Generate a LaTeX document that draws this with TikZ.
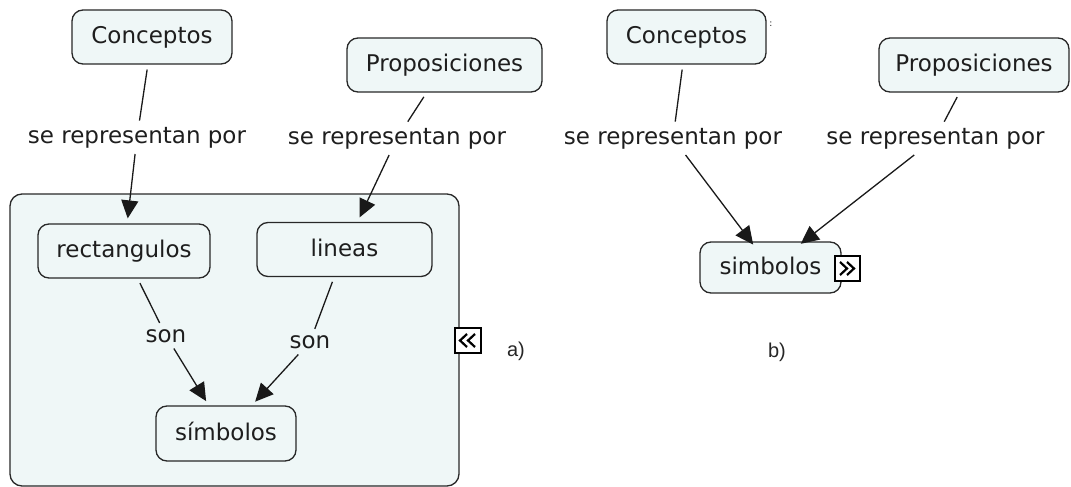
\documentclass[tikz,border=0pt]{standalone}
\usepackage{fontspec}
\setmainfont{DejaVu Sans}
\newfontfamily\labfont{Liberation Sans}
\usetikzlibrary{arrows.meta}
\definecolor{boxfill}{RGB}{239,247,247}
\definecolor{boxdraw}{RGB}{40,40,40}
\definecolor{txt}{RGB}{30,30,30}
\definecolor{lnk}{RGB}{25,25,25}
\begin{document}
\begin{tikzpicture}[x=1pt,y=-1pt,
  concept/.style={draw=boxdraw, fill=boxfill, line width=1.3pt, rounded corners=11pt,
    text=txt, font=\fontsize{23}{28}\selectfont, inner sep=0pt, minimum height=54pt,
    text height=18.4pt, text depth=4.6pt},
  group/.style={draw=boxdraw, fill=boxfill, line width=1.3pt, rounded corners=12pt, inner sep=0pt},
  linklab/.style={text=txt, font=\fontsize{23}{28}\selectfont, inner sep=6pt, anchor=base},
  conn/.style={draw=lnk, line width=1.3pt, shorten <=5pt},
  arr/.style={conn, -{Triangle[length=18pt,width=17pt]}, shorten <=0pt, shorten >=5pt},
  chevbox/.style={draw=black, fill=white, line width=1.3pt},
  chev/.style={draw=black, line width=2.2pt},
  sublab/.style={font=\labfont\fontsize{20}{24}\selectfont, text=black!85, anchor=base, inner sep=0pt}]
\useasboundingbox (0,0) rectangle (1071,487);

% ---------- panel a ----------
\node[group, minimum width=449pt, minimum height=292pt] (grp) at (234.5,340) {};

\node[concept, minimum width=160pt] (c1) at (152,37) {Conceptos};
\node[concept, minimum width=195pt] (p1) at (444.5,65) {Proposiciones};
\node[linklab] (l1) at (137,143) {se representan por};
\node[linklab] (l2) at (397,144) {se representan por};
\node[concept, minimum width=172pt, minimum height=54pt] (r) at (124,251) {rectangulos};
\node[concept, minimum width=175pt] (li) at (344.5,249.5) {lineas};
\node[linklab] (s1) at (166,342) {son};
\node[linklab] (s2) at (310,348) {son};
\node[concept, minimum width=140pt, minimum height=55pt] (sy) at (226,433.5) {símbolos};

\draw[conn] (c1) -- (l1);
\draw[arr] (l1) -- (r);
\draw[conn] (p1) -- (l2);
\draw[arr] (l2) -- (li);
\draw[conn] (r) -- (s1);
\draw[arr] (s1) -- (sy);
\draw[conn] (li) -- (s2);
\draw[arr] (s2) -- (sy);

\draw[chevbox] (455,328) rectangle (481,353);
\draw[chev] (467,334) -- (460,340.5) -- (467,347) (475,334) -- (468,340.5) -- (475,347);
\node[sublab] (ta) at (516,356) {a)};

% ---------- panel b ----------
\node[concept, minimum width=159pt] (c2) at (686.5,37) {Conceptos};
\node[font=\fontsize{9}{10}\selectfont, text=txt, inner sep=0pt] (colon) at (771,24) {:};
\node[concept, minimum width=190pt] (p2) at (974,65) {Proposiciones};
\node[linklab] (l3) at (673,144) {se representan por};
\node[linklab] (l4) at (935.5,144) {se representan por};
\node[concept, minimum width=141pt, minimum height=51pt] (sb) at (770.5,267.5) {simbolos};

\draw[conn] (c2) -- (l3);
\draw[arr, shorten >=-4pt] (l3) -- (sb);
\draw[conn] (p2) -- (l4);
\draw[arr, shorten >=-4pt] (l4) -- (sb);

\draw[chevbox] (835,256) rectangle (860,281);
\draw[chev] (840,262) -- (847,268.5) -- (840,275) (847,262) -- (854,268.5) -- (847,275);
\node[sublab] (tb) at (777,357) {b)};
\end{tikzpicture}
\end{document}
